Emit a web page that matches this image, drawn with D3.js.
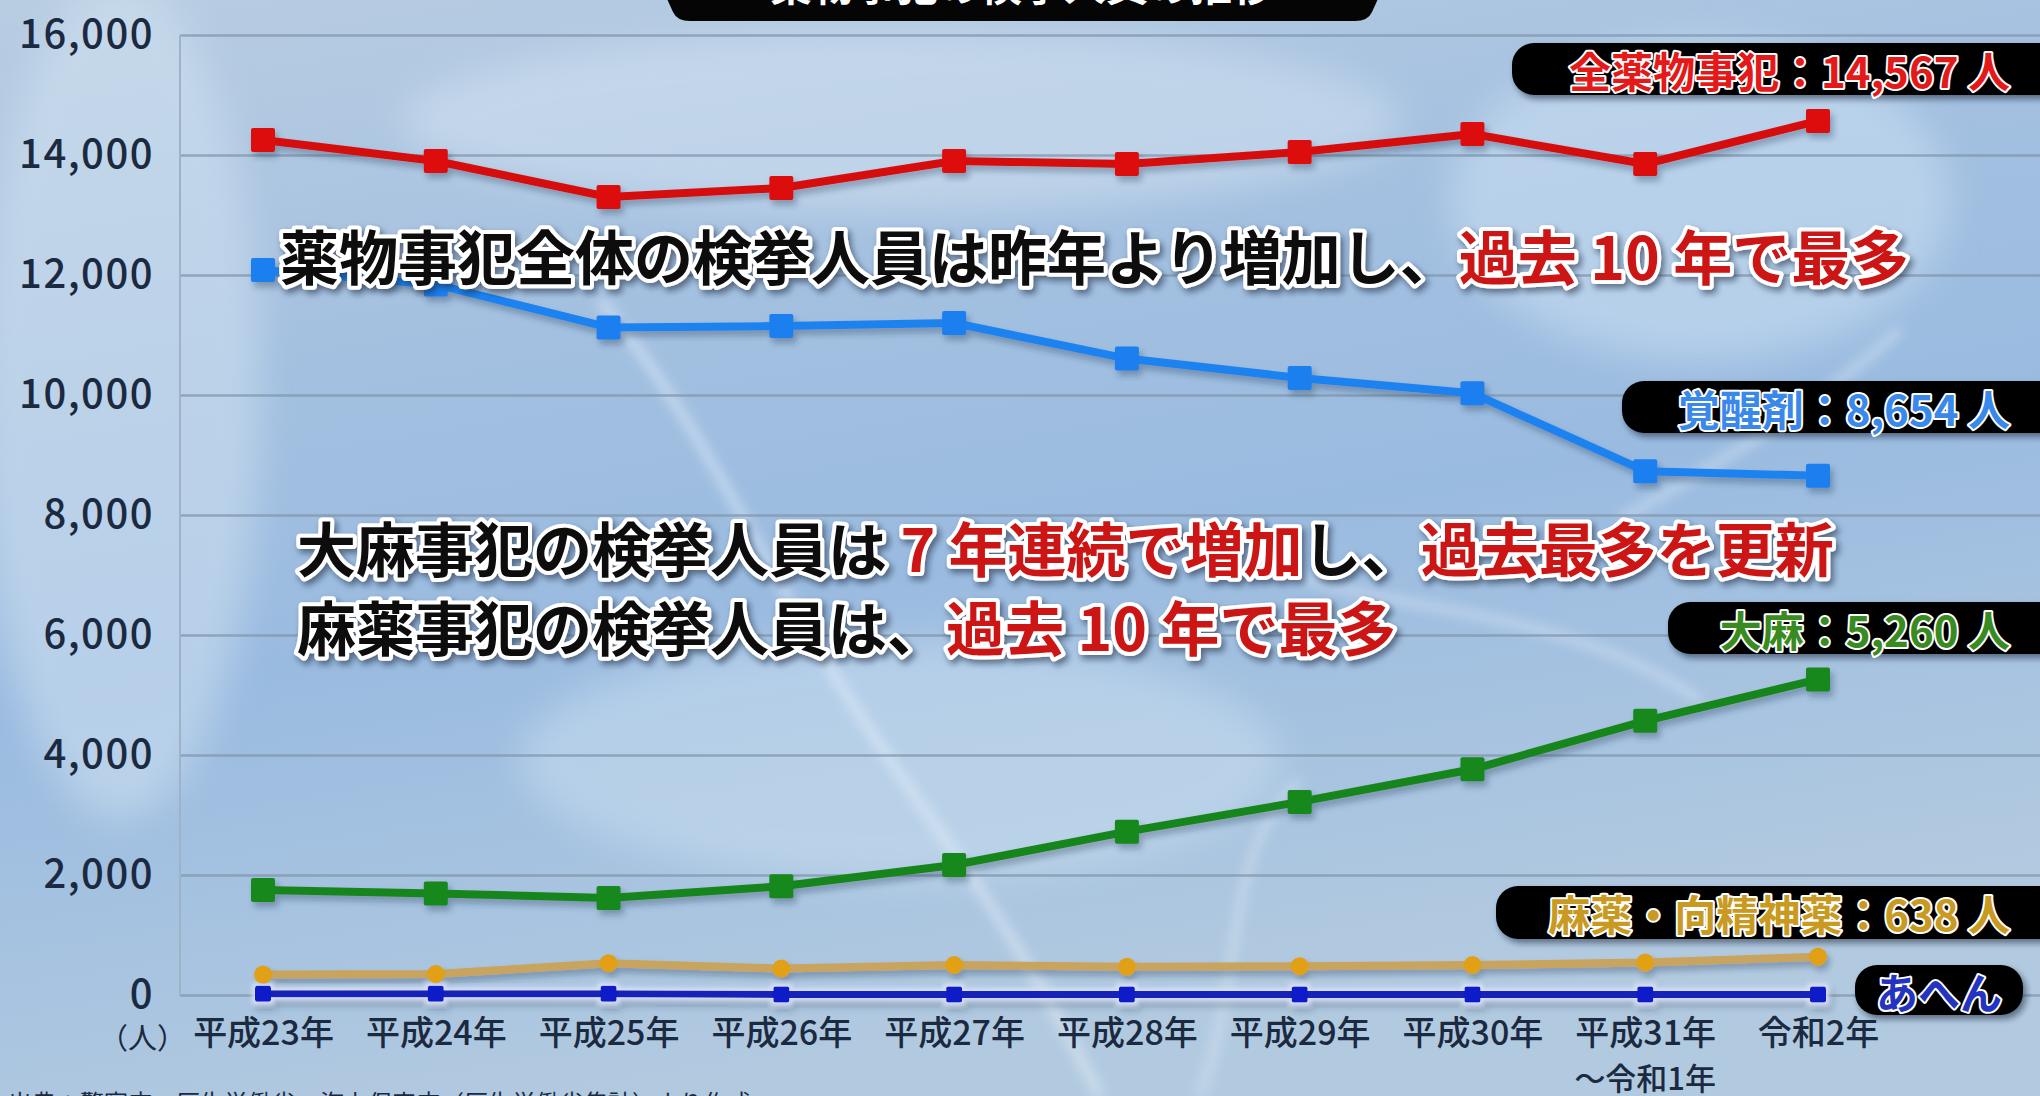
<!DOCTYPE html>
<html><head><meta charset="utf-8">
<script src="https://cdn.jsdelivr.net/npm/d3@7"></script>
<style>
html,body{margin:0;padding:0;overflow:hidden;background:#a9c3dc;}
svg{display:block;font-family:"Noto Sans CJK JP","Noto Sans",sans-serif;}
</style></head><body>
<svg id="c" width="2040" height="1096"></svg>
<script>
// ---------- data ----------
const categories = ["平成23年","平成24年","平成25年","平成26年","平成27年","平成28年","平成29年","平成30年","平成31年","令和2年"];
const categorySub = ["","","","","","","","","～令和1年",""];
const yTicks = [0,2000,4000,6000,8000,10000,12000,14000,16000];
const allDrugs   = [14250,13900,13300,13450,13900,13850,14050,14350,13850,14567];
const stimulants = [12083,11842,11127,11148,11200,10607,10284,10030,8730,8654];
const cannabis   = [1750,1692,1616,1813,2167,2722,3218,3762,4570,5260];
const narcotics  = [340,350,530,440,500,470,480,500,540,638];
const opium      = [20,20,20,10,10,10,10,10,10,10];
const calloutTexts = [
  "全薬物事犯：14,567 人",
  "覚醒剤：8,654 人",
  "大麻：5,260 人",
  "麻薬・向精神薬：638 人",
  "あへん"
];
const titleText = "薬物事犯の検挙人員の推移";
const sourceText = "出典：警察庁・厚生労働省・海上保安庁（厚生労働省集計）より作成";
const unitText = "（人）";

// ---------- layout ----------
const W = 2040, H = 1096;
const plotLeft = 180, plotRight = 2040, yTop = 35, yBottom = 995;
const svg = d3.select("#c");
const defs = svg.append("defs");

// background
const bg = defs.append("linearGradient").attr("id","bg").attr("x1",0).attr("y1",0).attr("x2",0.3).attr("y2",1);
[["0%","#b9cde2"],["35%","#a3c0e0"],["60%","#9abbe0"],["100%","#b2cae0"]].forEach(s=>bg.append("stop").attr("offset",s[0]).attr("stop-color",s[1]));
svg.append("rect").attr("width",W).attr("height",H).attr("fill","url(#bg)");
const blur = defs.append("filter").attr("id","blur").attr("x","-50%").attr("y","-50%").attr("width","200%").attr("height","200%");
blur.append("feGaussianBlur").attr("stdDeviation",18);
const blur2 = defs.append("filter").attr("id","blur2").attr("x","-50%").attr("y","-50%").attr("width","200%").attr("height","200%");
blur2.append("feGaussianBlur").attr("stdDeviation",6);
const glows = svg.append("g");
glows.append("ellipse").attr("cx",120).attr("cy",400).attr("rx",140).attr("ry",420).attr("fill","#d4e4f2").attr("opacity",0.5).attr("filter","url(#blur)");
glows.append("ellipse").attr("cx",900).attr("cy",120).attr("rx",500).attr("ry",90).attr("fill","#dbe8f4").attr("opacity",0.45).attr("filter","url(#blur)");
glows.append("ellipse").attr("cx",1700).attr("cy",200).attr("rx",250).attr("ry",160).attr("fill","#cfe3f5").attr("opacity",0.5).attr("filter","url(#blur)");
glows.append("ellipse").attr("cx",900).attr("cy",760).attr("rx",380).attr("ry",120).attr("fill","#d6e8f6").attr("opacity",0.4).attr("filter","url(#blur)");
glows.append("path").attr("d","M600,300 C700,420 760,560 850,700 S1000,900 1100,1096").attr("stroke","#f2f8ff").attr("stroke-width",10).attr("fill","none").attr("opacity",0.45).attr("filter","url(#blur2)");
glows.append("path").attr("d","M1250,560 C1400,620 1550,600 1700,700").attr("stroke","#f2f8ff").attr("stroke-width",8).attr("fill","none").attr("opacity",0.4).attr("filter","url(#blur2)");
glows.append("path").attr("d","M1200,1096 C1250,950 1220,860 1300,780").attr("stroke","#f2f8ff").attr("stroke-width",8).attr("fill","none").attr("opacity",0.35).attr("filter","url(#blur2)");
glows.append("path").attr("d","M1620,520 C1720,460 1800,420 1900,330").attr("stroke","#f2f8ff").attr("stroke-width",10).attr("fill","none").attr("opacity",0.35).attr("filter","url(#blur2)");

// scales
const x = d3.scalePoint().domain(categories).range([263,1818]);
const y = d3.scaleLinear().domain([0,16000]).range([yBottom,yTop]);

// gridlines
const grid = svg.append("g").attr("class","grid")
  .attr("transform",`translate(${plotLeft},0)`)
  .call(d3.axisRight(y).tickValues(yTicks).tickSize(plotRight-plotLeft).tickFormat(""));
grid.select(".domain").remove();
grid.selectAll("line").attr("stroke","#8296ac").attr("stroke-width",2.5).attr("opacity",0.75);
svg.append("line").attr("x1",plotLeft).attr("x2",plotLeft).attr("y1",yTop).attr("y2",yBottom)
  .attr("stroke","#9fb3c8").attr("stroke-width",2);

// y axis labels
const yAxis = svg.append("g").attr("transform",`translate(${plotLeft},0)`)
  .call(d3.axisLeft(y).tickValues(yTicks).tickSize(0).tickPadding(26).tickFormat(d3.format(",")));
yAxis.select(".domain").remove();
yAxis.selectAll("text").attr("font-size",40).attr("fill","#1b2a40").attr("font-family","'Noto Sans CJK JP',sans-serif")
  .attr("letter-spacing",1.5).style("font-weight",500);

// x axis labels
const xAxis = svg.append("g").attr("transform",`translate(0,${yBottom})`)
  .call(d3.axisBottom(x).tickSize(0).tickPadding(26));
xAxis.select(".domain").remove();
xAxis.selectAll("text").attr("font-size",34).attr("fill","#1b2a40").style("font-weight",500)
  .attr("font-family","'Noto Sans CJK JP',sans-serif");
svg.append("g").selectAll("text").data(categories.filter((c,i)=>categorySub[i])).join("text")
  .attr("x",d=>x(d)).attr("y",1090).attr("text-anchor","middle").attr("font-size",31)
  .attr("fill","#1b2a40").style("font-weight",500).text(d=>categorySub[categories.indexOf(d)]);
svg.append("text").attr("x",186).attr("y",1049).attr("text-anchor","end").attr("font-size",29)
  .attr("fill","#1b2a40").text(unitText);

// shadow filter
const sh = defs.append("filter").attr("id","sh").attr("x","-10%").attr("y","-10%").attr("width","130%").attr("height","140%");
sh.append("feDropShadow").attr("dx",3).attr("dy",5).attr("stdDeviation",3).attr("flood-color","#1d3150").attr("flood-opacity",0.35);
const halo = defs.append("filter").attr("id","halo").attr("x","-5%").attr("y","-200%").attr("width","110%").attr("height","500%");
halo.append("feMorphology").attr("in","SourceAlpha").attr("operator","dilate").attr("radius",3).attr("result","d");
halo.append("feGaussianBlur").attr("in","d").attr("stdDeviation",2).attr("result","b");
halo.append("feFlood").attr("flood-color","#dfe6ff").attr("flood-opacity",0.85);
halo.append("feComposite").attr("in2","b").attr("operator","in").attr("result","h");
const hm = halo.append("feMerge"); hm.append("feMergeNode").attr("in","h"); hm.append("feMergeNode").attr("in","SourceGraphic");

// series
const series = [
  {values:allDrugs,   color:"#de0c0c", line:"#d60f0f", width:8, marker:"square", size:24},
  {values:stimulants, color:"#1c7ff0", line:"#1f82f0", width:8, marker:"square", size:24},
  {values:cannabis,   color:"#14881c", line:"#17861c", width:8, marker:"square", size:24},
  {values:narcotics,  color:"#e2a015", line:"#c9a45e", width:8, marker:"circle", size:18},
  {values:opium,      color:"#0a1ac8", line:"#1424b8", width:7, marker:"square", size:16, halo:true}
];
const lineGen = d3.line().x((d,i)=>x(categories[i])).y(d=>y(d));
const sg = svg.append("g").attr("filter","url(#sh)");
series.slice().reverse().forEach(s=>{
  const g = sg.append("g");
  if(s.halo) g.attr("filter","url(#halo)");
  g.append("path").datum(s.values).attr("d",lineGen).attr("fill","none")
    .attr("stroke",s.line).attr("stroke-width",s.width).attr("stroke-linejoin","round");
  if(s.marker==="square"){
    g.selectAll("rect").data(s.values).join("rect")
      .attr("x",(d,i)=>x(categories[i])-s.size/2).attr("y",d=>y(d)-s.size/2)
      .attr("width",s.size).attr("height",s.size).attr("rx",2).attr("fill",s.color);
  } else {
    g.selectAll("circle").data(s.values).join("circle")
      .attr("cx",(d,i)=>x(categories[i])).attr("cy",d=>y(d)).attr("r",s.size/2).attr("fill",s.color);
  }
});

// title box (cut off at top)
svg.append("path").attr("d","M663,-10 L1382,-10 L1372,12 Q1368,21 1355,21 L690,21 Q677,21 673,12 Z").attr("fill","#050505");
svg.append("text").attr("x",1022).attr("y",1).attr("text-anchor","middle").attr("font-size",42).attr("font-weight",700)
  .attr("fill","#ffffff").text(titleText);

// callouts
const ts = defs.append("filter").attr("id","ts").attr("x","-5%").attr("y","-20%").attr("width","110%").attr("height","150%");
ts.append("feDropShadow").attr("dx",3).attr("dy",4).attr("stdDeviation",3).attr("flood-color","#102038").attr("flood-opacity",0.55);
const callouts = [
  {i:0, x0:1512, x1:2080, y0:43, y1:95, color:"#e41a1a"},
  {i:1, x0:1622, x1:2080, y0:381, y1:433, color:"#3a88ea"},
  {i:2, x0:1668, x1:2080, y0:602, y1:654, color:"#3a8a22"},
  {i:3, x0:1496, x1:2080, y0:886, y1:939, color:"#c99a22"},
  {i:4, x0:1855, x1:2023, y0:965, y1:1015, color:"#2434c0", center:true}
];
callouts.forEach(c=>{
  svg.append("rect").attr("x",c.x0).attr("y",c.y0).attr("width",c.x1-c.x0).attr("height",c.y1-c.y0)
    .attr("rx",22).attr("fill","#060606").attr("filter","url(#ts)");
  svg.append("text").attr("x",c.center?(c.x0+c.x1)/2:2010).attr("y",(c.y0+c.y1)/2)
    .attr("dominant-baseline","central").attr("text-anchor",c.center?"middle":"end")
    .attr("font-size",42).attr("font-weight",700).attr("fill",c.color)
    .attr("stroke","#ffffff").attr("stroke-width",4).attr("paint-order","stroke").attr("stroke-linejoin","round")
    .text(calloutTexts[c.i]);
});

// annotations
const annotations = [
  {x:280, y:254, parts:[["薬物事犯全体の検挙人員は昨年より増加し、","#0a0a0a"],["過去 10 年で最多","#cc1212"]]},
  {x:297, y:546, parts:[["大麻事犯の検挙人員は ","#0a0a0a"],["7 年連続で増加","#cc1212"],["し、","#0a0a0a"],["過去最多を更新","#cc1212"]]},
  {x:297, y:625, parts:[["麻薬事犯の検挙人員は、","#0a0a0a"],["過去 10 年で最多","#cc1212"]]}
];
annotations.forEach(a=>{
  const t = svg.append("text").attr("x",a.x).attr("y",a.y).attr("dominant-baseline","central")
    .attr("font-size",59).attr("font-weight",700).attr("xml:space","preserve")
    .attr("stroke","#ffffff").attr("stroke-width",8).attr("paint-order","stroke").attr("stroke-linejoin","round")
    .attr("filter","url(#ts)");
  a.parts.forEach(p=>t.append("tspan").attr("fill",p[1]).text(p[0]));
});

// source (cut off at bottom)
svg.append("text").attr("x",8).attr("y",1112).attr("font-size",24).attr("fill","#1b2a40").text(sourceText);
</script>
</body></html>
